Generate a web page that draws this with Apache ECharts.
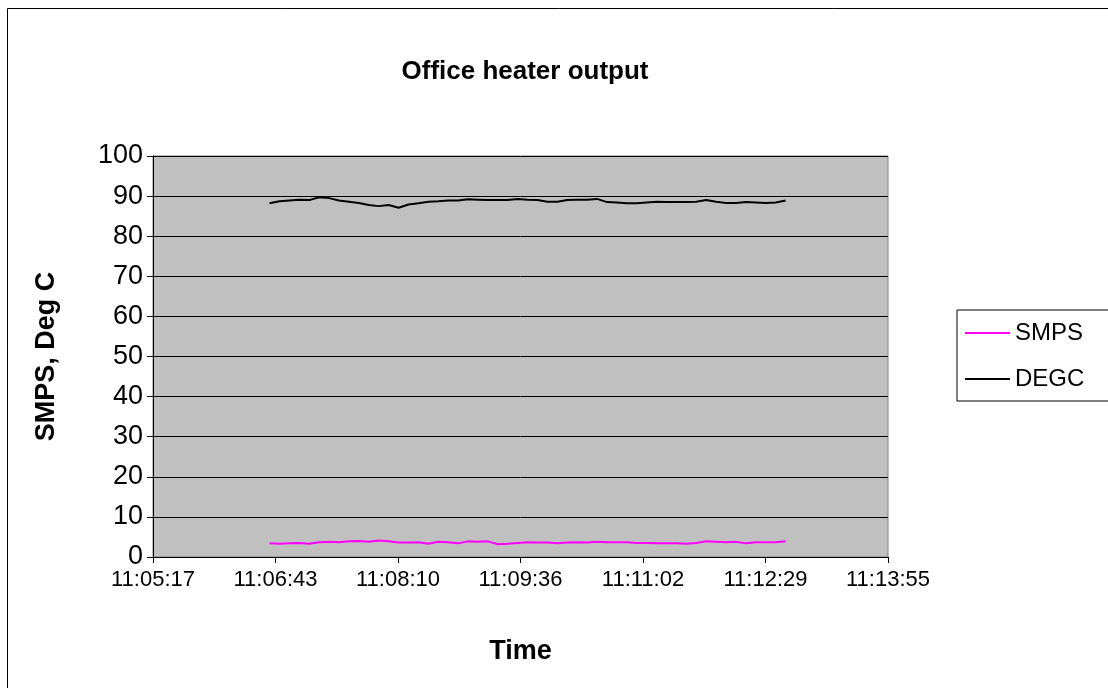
<!DOCTYPE html>
<html>
<head>
<meta charset="utf-8">
<script src="https://cdn.jsdelivr.net/npm/echarts@6/dist/echarts.min.js"></script>
<style>
html,body{margin:0;padding:0;background:#fff;}
#chart{width:1108px;height:688px;}
</style>
</head>
<body>
<div id="chart"></div>
<script>
var times = ["11:06:39","11:06:46","11:06:53","11:07:00","11:07:07","11:07:14","11:07:21","11:07:28","11:07:35","11:07:42",
"11:07:49","11:07:56","11:08:03","11:08:10","11:08:17","11:08:24","11:08:31","11:08:38","11:08:45","11:08:52",
"11:08:59","11:09:06","11:09:13","11:09:20","11:09:27","11:09:34","11:09:41","11:09:48","11:09:55","11:10:02",
"11:10:09","11:10:16","11:10:23","11:10:30","11:10:37","11:10:44","11:10:51","11:10:58","11:11:05","11:11:12",
"11:11:19","11:11:26","11:11:33","11:11:40","11:11:47","11:11:54","11:12:01","11:12:08","11:12:15","11:12:22",
"11:12:29","11:12:36","11:12:43"];
var smps = [3.4,3.3,3.4,3.5,3.3,3.7,3.8,3.7,3.9,4.0,
3.8,4.1,3.9,3.6,3.6,3.7,3.3,3.8,3.7,3.4,
3.9,3.8,3.9,3.2,3.3,3.5,3.7,3.6,3.6,3.4,
3.6,3.7,3.6,3.8,3.7,3.7,3.7,3.5,3.5,3.4,
3.4,3.4,3.3,3.5,3.9,3.8,3.7,3.8,3.4,3.7,
3.7,3.7,3.9];
var degc = [88.2,88.7,88.9,89.1,89.0,89.7,89.5,88.9,88.6,88.3,
87.8,87.5,87.8,87.1,87.9,88.2,88.6,88.7,88.9,88.9,
89.2,89.1,89.0,89.0,89.0,89.3,89.1,89.0,88.6,88.6,
89.0,89.1,89.1,89.3,88.5,88.4,88.2,88.2,88.4,88.6,
88.5,88.5,88.5,88.6,89.0,88.6,88.3,88.3,88.5,88.4,
88.3,88.4,88.9];
var xTickLabels = ["11:05:17","11:06:43","11:08:10","11:09:36","11:11:02","11:12:29","11:13:55"];
var xMin = 39916.8, xInterval = 86.4, xMax = 40435.2;

function toSec(t){var p=t.split(":");return (+p[0])*3600+(+p[1])*60+(+p[2]);}
function pairs(vals){return times.map(function(t,i){return [toSec(t),vals[i]];});}

var chart = echarts.init(document.getElementById('chart'), null, {renderer:'canvas'});
var font = '"Liberation Sans", Arial, sans-serif';
chart.setOption({
  animation:false,
  backgroundColor:'#fff',
  graphic:[{type:'rect',shape:{x:7.5,y:8.5,width:1120,height:700},style:{fill:'none',stroke:'#000',lineWidth:1}}],
  title:{text:'Office heater output',left:520,top:54,textAlign:'center',
    textStyle:{fontFamily:font,fontSize:26,fontWeight:'bold',color:'#000'}},
  grid:{left:153,top:156,right:220,bottom:131,show:true,backgroundColor:'#C0C0C0',borderColor:'#808080',borderWidth:1},
  legend:{orient:'vertical',left:957,top:310,padding:[11,40,10,8],itemGap:22,itemWidth:45,itemHeight:2,
    borderColor:'#000',borderWidth:1,icon:'rect',
    textStyle:{fontFamily:font,fontSize:24,color:'#000'},
    data:['SMPS','DEGC']},
  xAxis:{type:'value',min:xMin,max:xMax,interval:xInterval,
    name:'Time',nameLocation:'middle',nameGap:81,
    nameTextStyle:{fontFamily:font,fontSize:27,fontWeight:'bold',color:'#000'},
    axisLine:{lineStyle:{color:'#000',width:1}},
    axisTick:{show:true,length:6,lineStyle:{color:'#000'}},
    splitLine:{show:false},
    axisLabel:{fontFamily:font,fontSize:22,color:'#000',margin:12,
      formatter:function(v){return xTickLabels[Math.round((v-xMin)/xInterval)];}}},
  yAxis:{type:'value',min:0,max:100,interval:10,
    name:'SMPS, Deg C',nameLocation:'middle',nameGap:93,
    nameTextStyle:{fontFamily:font,fontSize:27,fontWeight:'bold',color:'#000'},
    axisLine:{show:true,lineStyle:{color:'#000',width:1}},
    axisTick:{show:true,length:6,lineStyle:{color:'#000'}},
    splitLine:{show:true,lineStyle:{color:'#000',width:1}},
    axisLabel:{fontFamily:font,fontSize:27,color:'#000',margin:10}},
  series:[
    {name:'SMPS',type:'line',data:pairs(smps),showSymbol:false,symbol:'none',
     lineStyle:{color:'#FF00FF',width:2},itemStyle:{color:'#FF00FF'}},
    {name:'DEGC',type:'line',data:pairs(degc),showSymbol:false,symbol:'none',
     lineStyle:{color:'#000000',width:2},itemStyle:{color:'#000000'}}
  ]
});
</script>
</body>
</html>
